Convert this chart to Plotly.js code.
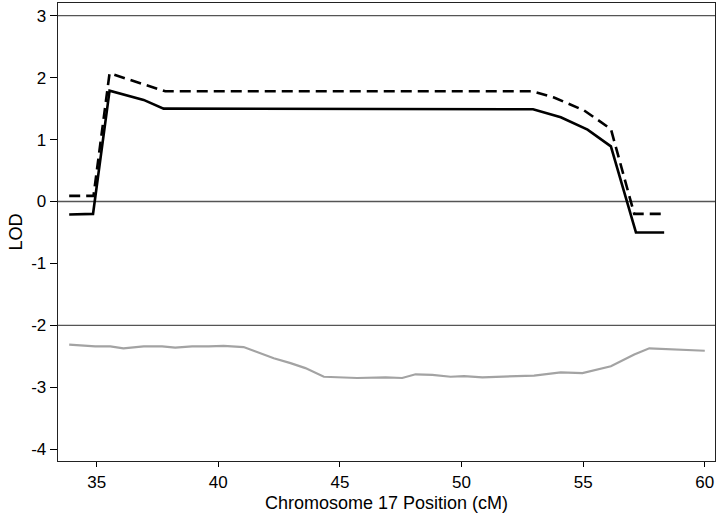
<!DOCTYPE html>
<html>
<head>
<meta charset="utf-8">
<script src="https://cdn.plot.ly/plotly-3.0.1.min.js"></script>
<style>html,body{margin:0;padding:0;background:#fff;}#chart{width:720px;height:515px;}</style>
</head>
<body>
<div id="chart"></div>
<script>
// Solid black LOD curve
const solidX = [33.87, 34.85, 35.53, 36.93, 37.75, 52.94, 54.08, 55.18, 56.14, 57.17, 58.33];
const solidY = [-0.21, -0.20, 1.79, 1.64, 1.50, 1.49, 1.36, 1.16, 0.89, -0.50, -0.50];
// Dashed black LOD curve
const dashX = [33.87, 34.87, 35.53, 37.82, 52.91, 53.80, 55.04, 56.14, 57.10, 58.27];
const dashY = [0.09, 0.09, 2.07, 1.78, 1.78, 1.68, 1.47, 1.17, -0.20, -0.20];
// Gray curve
const grayX = [33.87, 34.94, 35.56, 36.10, 36.93, 37.69, 38.23, 38.92, 39.60, 40.22, 41.04, 41.60, 42.28, 42.97, 43.58, 44.34, 45.10, 45.71, 46.88, 47.56, 48.11, 48.80, 49.55, 50.10, 50.86, 51.75, 52.98, 54.08, 54.97, 56.14, 57.10, 57.72, 60.00];
const grayY = [-2.31, -2.34, -2.34, -2.37, -2.34, -2.34, -2.36, -2.34, -2.34, -2.33, -2.35, -2.43, -2.53, -2.61, -2.69, -2.83, -2.84, -2.85, -2.84, -2.85, -2.79, -2.80, -2.83, -2.82, -2.84, -2.83, -2.81, -2.76, -2.77, -2.66, -2.47, -2.37, -2.41];
// Reference levels
const refLevels = [3, 0, -2];
const xTicks = [35, 40, 45, 50, 55, 60];
const yTicks = [-4, -3, -2, -1, 0, 1, 2, 3];
const xTitle = 'Chromosome 17 Position (cM)';
const yTitle = 'LOD';

const traces = [
  {x: grayX, y: grayY, mode: 'lines', line: {color: '#a3a3a3', width: 2.2}, hoverinfo: 'skip'},
  {x: solidX, y: solidY, mode: 'lines', line: {color: '#000', width: 2.6}, hoverinfo: 'skip'},
  {x: dashX, y: dashY, mode: 'lines', line: {color: '#000', width: 2.6, dash: '11px,6px'}, hoverinfo: 'skip'}
];

const shapes = refLevels.map(v => ({
  type: 'line', xref: 'paper', x0: 0, x1: 1, yref: 'y', y0: v, y1: v,
  line: {color: '#555', width: 1.3}, layer: 'below'
}));

const font = {family: 'Liberation Sans, Arial, Helvetica, sans-serif', size: 18, color: '#000'};
const tickFont = {family: 'Liberation Sans, Arial, Helvetica, sans-serif', size: 17, color: '#000'};

Plotly.newPlot('chart', traces, {
  width: 720, height: 515,
  margin: {l: 58, r: 5, t: 3, b: 54},
  paper_bgcolor: '#fff', plot_bgcolor: '#fff',
  showlegend: false,
  font: font,
  shapes: shapes,
  annotations: [{
    text: xTitle, xref: 'paper', yref: 'paper', x: 0.5, y: 0,
    xanchor: 'center', yanchor: 'middle', yshift: -42, showarrow: false, font: font
  }],
  xaxis: {
    range: [33.41, 60.42], tickvals: xTicks, ticktext: xTicks.map(String),
    ticks: 'outside', ticklen: 5, tickwidth: 1, tickcolor: '#000',
    showgrid: false, zeroline: false, showline: true, linecolor: '#222', linewidth: 1.3, mirror: true,
    tickfont: tickFont
  },
  yaxis: {
    range: [-4.19, 3.205], tickvals: yTicks, ticktext: yTicks.map(String),
    ticks: 'outside', ticklen: 7, tickwidth: 1, tickcolor: '#000',
    showgrid: false, zeroline: false, showline: true, linecolor: '#222', linewidth: 1.3, mirror: true,
    tickfont: tickFont,
    title: {text: yTitle, font: font, standoff: 4}
  }
}, {staticPlot: true});
</script>
</body>
</html>
